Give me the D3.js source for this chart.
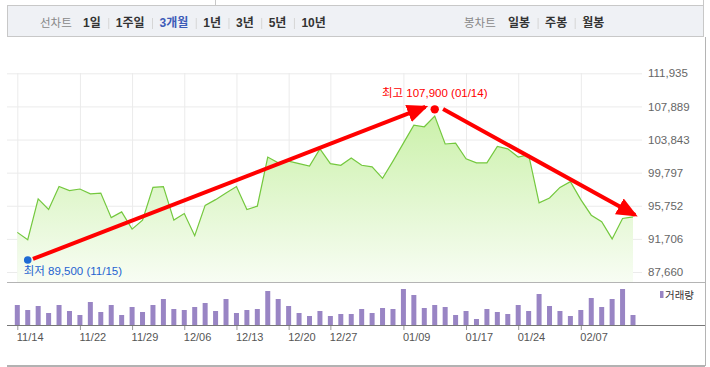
<!DOCTYPE html>
<html>
<head>
<meta charset="utf-8">
<script src="https://cdn.jsdelivr.net/npm/d3@7"></script>
<style>
  body { margin: 0; background: #fff; }
  svg { display: block; font-family: "Liberation Sans", "Noto Sans CJK KR", sans-serif; }
</style>
</head>
<body>
<svg id="chart" width="710" height="367"></svg>
<script>
"use strict";

// trading days, 3 months
var dates = ['11/14', '11/15', '11/18', '11/19', '11/20', '11/21', '11/22', '11/25', '11/26', '11/27',
  '11/28', '11/29', '12/02', '12/03', '12/04', '12/05', '12/06', '12/09', '12/10', '12/11',
  '12/12', '12/13', '12/16', '12/17', '12/18', '12/19', '12/20', '12/23', '12/24', '12/26',
  '12/27', '12/30', '01/02', '01/03', '01/06', '01/07', '01/08', '01/09', '01/10', '01/13',
  '01/14', '01/15', '01/16', '01/17', '01/20', '01/21', '01/22', '01/23', '01/24', '01/31',
  '02/03', '02/04', '02/05', '02/06', '02/07', '02/10', '02/11', '02/12', '02/13', '02/14'];

var closes = [92500, 91600, 96600, 95300, 98100, 97600, 97800, 97200, 97300, 94300,
  95000, 92900, 94000, 98000, 98100, 94000, 94800, 92100, 95800, 96500,
  97300, 98100, 95300, 95700, 101700, 101000, 101200, 100900, 100600, 102700,
  100900, 100700, 101600, 100700, 100500, 99100, 101200, 103400, 105600, 105400,
  106700, 103300, 103400, 101500, 101000, 101000, 103000, 102700, 101700, 102000,
  96100, 96700, 98000, 98700, 96500, 94600, 93800, 91700, 94200, 94400];

// volume, relative units
var volumes = [20, 15, 19, 12, 20, 14, 10, 23, 13, 20,
  10, 18, 13, 20, 26, 16, 15, 18, 22, 14,
  26, 12, 15, 16, 34, 26, 19, 12, 9, 14,
  9, 11, 11, 16, 12, 17, 16, 36, 30, 17,
  20, 18, 10, 14, 6, 16, 13, 11, 20, 14,
  31, 19, 14, 9, 15, 27, 18, 26, 36, 10];

var yTicks = [87660, 91706, 95752, 99797, 103843, 107889, 111935];
var xTicks = ['11/14', '11/22', '11/29', '12/06', '12/13', '12/20', '12/27', '01/09', '01/17', '01/24', '02/07'];

var lineTabs = ['1일', '1주일', '3개월', '1년', '3년', '5년', '10년'];
var candleTabs = ['일봉', '주봉', '월봉'];
var activeTab = '3개월';

var high = { date: '01/14', value: 107900 };
var low = { date: '11/15', value: 89500 };

// hand drawn arrows, [day index, price]
var arrows = [
  [[1.5, 89250], [39.1, 107820]],
  [[40.8, 107570], [59.2, 94620]]
];

var svg = d3.select('#chart');

function draw_header() {
  var g = svg.append('g');
  g.append('line').attr('x1', 215.5).attr('x2', 215.5).attr('y1', 0).attr('y2', 5)
    .attr('stroke', '#c8c8c8');
  g.append('line').attr('x1', 703.5).attr('x2', 703.5).attr('y1', 0).attr('y2', 5)
    .attr('stroke', '#c8c8c8');
  g.append('rect')
    .attr('x', 7.5).attr('y', 5.5).attr('width', 696).attr('height', 31)
    .attr('fill', '#eff1f5').attr('stroke', '#c8c8c8');

  var tabs = function (title, items, x0, x1) {
    g.append('text').attr('x', x0).attr('y', 27)
      .attr('font-size', 11.5).attr('fill', '#888').text(title);
    var x = x1;
    items.forEach(function (d, i) {
      if (i > 0) {
        g.append('line').attr('x1', x + 0.5).attr('x2', x + 0.5)
          .attr('y1', 18).attr('y2', 29).attr('stroke', '#d6d6d6');
        x += 7.5;
      }
      var lbl = g.append('text').attr('x', x).attr('y', 27)
        .attr('font-size', 12).attr('font-weight', 'bold')
        .attr('fill', d === activeTab ? '#3d5cb8' : '#333').text(d);
      x += lbl.node().getComputedTextLength() + 7.5;
    });
  };
  tabs('선차트', lineTabs, 40, 83);
  tabs('봉차트', candleTabs, 464, 508);
}

function draw_price(X, Y) {
  var plot = svg.append('g');
  var left = 7, right = 642, top = 73, bottom = 283;

  var defs = svg.append('defs');
  var grad = defs.append('linearGradient').attr('id', 'area_fill')
    .attr('gradientUnits', 'userSpaceOnUse')
    .attr('x1', 0).attr('x2', 0).attr('y1', top).attr('y2', bottom);
  grad.append('stop').attr('offset', 0).attr('stop-color', '#c0ee98');
  grad.append('stop').attr('offset', 1).attr('stop-color', '#f8fdf4');

  var head = defs.append('marker').attr('id', 'arrow_head')
    .attr('markerUnits', 'userSpaceOnUse')
    .attr('markerWidth', 24).attr('markerHeight', 24)
    .attr('refX', 18).attr('refY', 9).attr('orient', 'auto');
  head.append('path').attr('d', 'M0,0 L21,9 L0,18 Z').attr('fill', '#ff0000');

  // grid + right axis
  var yaxis = d3.axisRight(Y).tickValues(yTicks)
    .tickSize(-(right - left)).tickPadding(6)
    .tickFormat(d3.format(','));
  var ya = plot.append('g').attr('class', 'axis y')
    .attr('transform', 'translate(' + right + ',0)')
    .call(yaxis);
  ya.select('.domain').remove();
  ya.selectAll('line').attr('stroke', '#ebebeb');
  ya.selectAll('text').attr('fill', '#666').attr('font-size', 11.5)
    .attr('font-family', '"Liberation Sans", sans-serif');

  plot.selectAll('.vgrid').data(xTicks).enter().append('line')
    .attr('class', 'vgrid')
    .attr('x1', function (d) { return X(dates.indexOf(d)) + 0.5; })
    .attr('x2', function (d) { return X(dates.indexOf(d)) + 0.5; })
    .attr('y1', top).attr('y2', bottom)
    .attr('stroke', '#ebebeb');

  var area = d3.area()
    .x(function (d, i) { return X(i); })
    .y0(bottom)
    .y1(function (d) { return Y(d); });
  plot.append('path').datum(closes)
    .attr('d', area).attr('fill', 'url(#area_fill)');

  var line = d3.line()
    .x(function (d, i) { return X(i); })
    .y(function (d) { return Y(d); });
  plot.append('path').datum(closes)
    .attr('d', line).attr('fill', 'none')
    .attr('stroke', '#74c83e').attr('stroke-width', 1.2);

  // high / low
  var hx = X(dates.indexOf(high.date)), hy = Y(high.value);
  plot.append('circle').attr('cx', hx).attr('cy', hy + 3).attr('r', 4.2).attr('fill', '#ff0000');
  plot.append('text').attr('x', hx).attr('y', hy - 9)
    .attr('text-anchor', 'middle').attr('font-size', 11.5).attr('fill', '#ff0000')
    .text('최고 ' + d3.format(',')(high.value) + ' (' + high.date + ')');

  var lx = X(dates.indexOf(low.date)), ly = Y(low.value);
  plot.append('circle').attr('cx', lx).attr('cy', ly + 3).attr('r', 3.8).attr('fill', '#1f6bd4');
  plot.append('text').attr('x', lx - 4).attr('y', ly + 18)
    .attr('font-size', 11.5).attr('fill', '#1f63d0')
    .text('최저 ' + d3.format(',')(low.value) + ' (' + low.date + ')');

  plot.selectAll('.arrow').data(arrows).enter().append('line')
    .attr('class', 'arrow')
    .attr('x1', function (d) { return X(d[0][0]); })
    .attr('y1', function (d) { return Y(d[0][1]); })
    .attr('x2', function (d) { return X(d[1][0]); })
    .attr('y2', function (d) { return Y(d[1][1]); })
    .attr('stroke', '#ff0000').attr('stroke-width', 4)
    .attr('marker-end', 'url(#arrow_head)');
}

function draw_volume(X) {
  var g = svg.append('g');
  var base = 325;
  var V = d3.scaleLinear().domain([0, d3.max(volumes)]).range([base, base - 36]);

  g.append('line').attr('x1', 7).attr('x2', 705).attr('y1', 282.5).attr('y2', 282.5)
    .attr('stroke', '#b4b4b4');

  g.selectAll('.bar').data(volumes).enter().append('rect')
    .attr('class', 'bar')
    .attr('x', function (d, i) { return X(i) - 2.5; })
    .attr('y', function (d) { return V(d); })
    .attr('width', 5)
    .attr('height', function (d) { return base - V(d); })
    .attr('fill', '#9985c4');

  var xaxis = d3.axisBottom(X)
    .tickValues(xTicks.map(function (d) { return dates.indexOf(d); }))
    .tickFormat(function (i) { return dates[i]; })
    .tickSize(5).tickPadding(3);
  var xa = g.append('g').attr('class', 'axis x')
    .attr('transform', 'translate(0,' + base + ')')
    .call(xaxis);
  xa.select('.domain').remove();
  xa.selectAll('line').attr('stroke', '#999');
  xa.selectAll('text').attr('fill', '#555').attr('font-size', 11)
    .attr('text-anchor', 'start').attr('x', -1)
    .attr('font-family', '"Liberation Sans", sans-serif');

  g.append('line').attr('x1', 7).attr('x2', 705).attr('y1', base + 0.5).attr('y2', base + 0.5)
    .attr('stroke', '#777');
  g.append('line').attr('x1', 7).attr('x2', 705).attr('y1', 366).attr('y2', 366)
    .attr('stroke', '#666').attr('stroke-width', 1.2);
  g.append('line').attr('x1', 705.5).attr('x2', 705.5).attr('y1', 37).attr('y2', 366)
    .attr('stroke', '#b4b4b4');

  g.append('rect').attr('x', 660).attr('y', 291).attr('width', 3.5).attr('height', 7)
    .attr('fill', '#9985c4');
  g.append('text').attr('x', 665).attr('y', 298.5)
    .attr('font-size', 10.5).attr('fill', '#333').text('거래량');
}

function init_plot() {
  var X = d3.scaleLinear().domain([0, dates.length - 1]).range([17.3, 633]);
  var Y = d3.scaleLinear().domain([yTicks[0], yTicks[yTicks.length - 1]]).range([272, 73.3]);
  draw_header();
  draw_price(X, Y);
  draw_volume(X);
}

init_plot();
</script>
</body>
</html>
